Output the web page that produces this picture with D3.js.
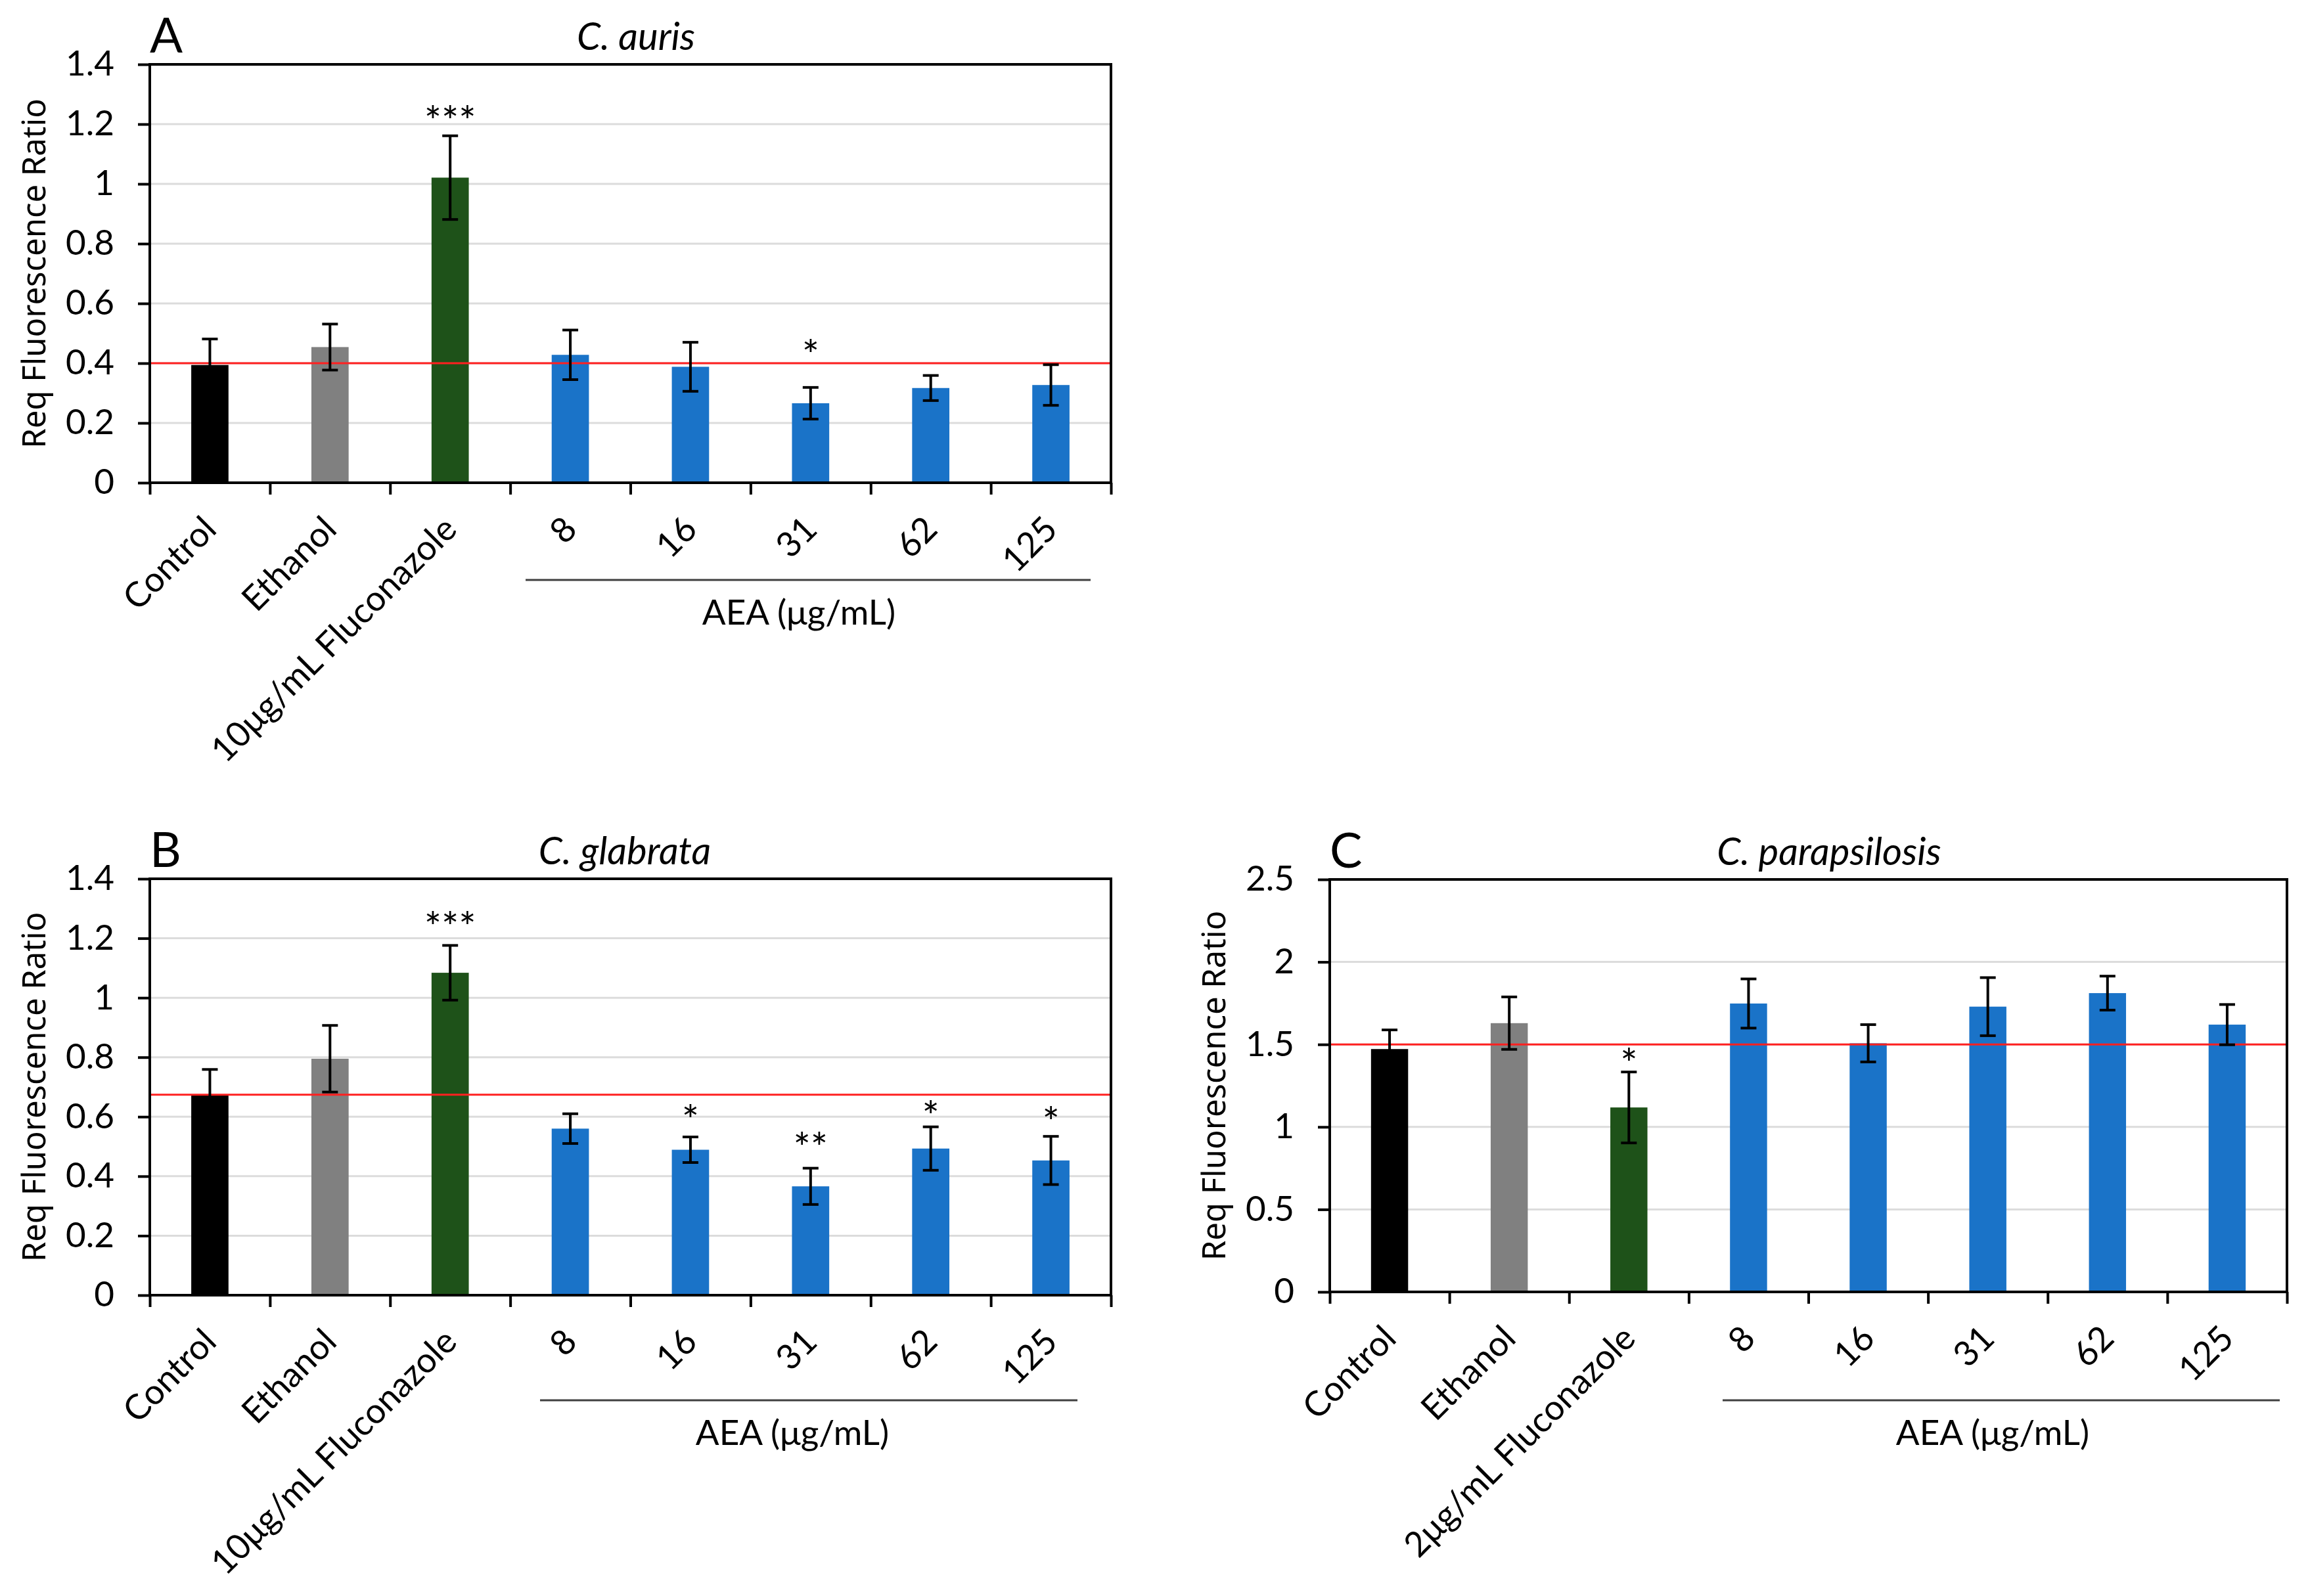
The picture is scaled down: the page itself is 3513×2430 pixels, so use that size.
<!DOCTYPE html>
<html>
<head>
<meta charset="utf-8">
<script src="https://cdn.jsdelivr.net/npm/d3@7/dist/d3.min.js"></script>
<style>
    body { margin: 0; background: #fff; }
    svg text { font-family: Lato, "Open Sans", sans-serif; fill: #000; }
</style>
</head>
<body>
<script>
// categories
var categoriesAB = ["Control", "Ethanol", "10μg/mL Fluconazole", "8", "16", "31", "62", "125"];
var categoriesC = ["Control", "Ethanol", "2μg/mL Fluconazole", "8", "16", "31", "62", "125"];
var barColors = ["#000000", "#808080", "#1e5219", "#1a73c8", "#1a73c8", "#1a73c8", "#1a73c8", "#1a73c8"];

// panel A - C. auris
var valuesA = [0.394, 0.454, 1.021, 0.428, 0.388, 0.266, 0.317, 0.327];
var errorsA = [0.087, 0.077, 0.140, 0.083, 0.082, 0.053, 0.042, 0.068];
var sigA = ["", "", "***", "", "", "*", "", ""];
var sigLevelA = [null, null, 1.236, null, null, 0.452, null, null];
var refA = 0.40;
var yTicksA = [0, 0.2, 0.4, 0.6, 0.8, 1, 1.2, 1.4];
var tickLabelsA = ["0", "0.2", "0.4", "0.6", "0.8", "1", "1.2", "1.4"];

// panel B - C. glabrata
var valuesB = [0.674, 0.795, 1.084, 0.560, 0.489, 0.366, 0.493, 0.453];
var errorsB = [0.085, 0.112, 0.092, 0.050, 0.043, 0.061, 0.073, 0.081];
var sigB = ["", "", "***", "", "*", "**", "*", "*"];
var sigLevelB = [null, null, 1.262, null, 0.614, 0.522, 0.627, 0.607];
var refB = 0.674;
var yTicksB = [0, 0.2, 0.4, 0.6, 0.8, 1, 1.2, 1.4];
var tickLabelsB = ["0", "0.2", "0.4", "0.6", "0.8", "1", "1.2", "1.4"];

// panel C - C. parapsilosis
var valuesC = [1.472, 1.629, 1.118, 1.748, 1.507, 1.729, 1.811, 1.620];
var errorsC = [0.116, 0.159, 0.215, 0.149, 0.113, 0.176, 0.103, 0.122];
var sigC = ["", "", "*", "", "", "", "", ""];
var sigLevelC = [null, null, 1.429, null, null, null, null, null];
var refC = 1.50;
var yTicksC = [0, 0.5, 1, 1.5, 2, 2.5];
var tickLabelsC = ["0", "0.5", "1", "1.5", "2", "2.5"];

var W = 3513, H = 2430;

var svg = d3.select("body").append("svg")
    .attr("width", W)
    .attr("height", H)
    .attr("viewBox", "0 0 " + W + " " + H);

svg.append("rect").attr("width", W).attr("height", H).attr("fill", "#fff");

function drawPanel(p) {
    var x = d3.scaleBand().domain(p.categories).range([p.x0, p.x1]);
    var xEdge = d3.scaleLinear().domain([0, p.categories.length]).range([p.x0, p.x1]);
    var y = d3.scaleLinear().domain([0, p.yTicks[p.yTicks.length - 1]]).range([p.y1, p.y0]);
    var bw = x.bandwidth() * 0.31;
    var cx = function(i) { return x(p.categories[i]) + x.bandwidth() / 2; };

    var g = svg.append("g");

    // gridlines
    g.append("g").selectAll("line")
        .data(p.yTicks.slice(1, -1))
        .enter().append("line")
        .attr("x1", p.x0).attr("x2", p.x1)
        .attr("y1", y).attr("y2", y)
        .attr("stroke", "#dcdcdc")
        .attr("stroke-width", 3);

    // bars
    g.append("g").selectAll("rect")
        .data(p.values)
        .enter().append("rect")
        .attr("x", function(d, i) { return cx(i) - bw / 2; })
        .attr("y", function(d) { return y(d); })
        .attr("width", bw)
        .attr("height", function(d) { return y(0) - y(d); })
        .attr("fill", function(d, i) { return barColors[i]; });

    // reference line
    g.append("line")
        .attr("x1", p.x0).attr("x2", p.x1)
        .attr("y1", y(p.ref)).attr("y2", y(p.ref))
        .attr("stroke", "#ff2020")
        .attr("stroke-width", 3);

    // error bars
    var eb = g.append("g").attr("stroke", "#000").attr("stroke-width", 4);
    p.values.forEach(function(v, i) {
        var e = p.errors[i], c = cx(i);
        eb.append("line").attr("x1", c).attr("x2", c).attr("y1", y(v - e)).attr("y2", y(v + e));
        eb.append("line").attr("x1", c - 12).attr("x2", c + 12).attr("y1", y(v + e)).attr("y2", y(v + e));
        eb.append("line").attr("x1", c - 12).attr("x2", c + 12).attr("y1", y(v - e)).attr("y2", y(v - e));
    });

    // significance marks
    p.sig.forEach(function(s, i) {
        if (!s) return;
        g.append("text")
            .attr("x", cx(i))
            .attr("y", y(p.sigLevel[i]) + 34)
            .attr("text-anchor", "middle")
            .style("font-size", "62px")
            .text(s);
    });

    // frame
    g.append("rect")
        .attr("x", p.x0).attr("y", p.y0)
        .attr("width", p.x1 - p.x0).attr("height", p.y1 - p.y0)
        .attr("fill", "none")
        .attr("stroke", "#000")
        .attr("stroke-width", 4);

    // y axis
    var yAxis = g.append("g")
        .attr("transform", "translate(" + p.x0 + ",0)")
        .call(d3.axisLeft(y)
            .tickValues(p.yTicks)
            .tickSize(18)
            .tickPadding(36)
            .tickFormat(function(d, i) { return p.tickLabels[i]; }));
    yAxis.select(".domain").remove();
    yAxis.selectAll(".tick line").attr("stroke-width", 4);
    yAxis.selectAll(".tick text").style("font-size", "53px");

    // x axis boundary ticks
    var xTicks = g.append("g")
        .attr("transform", "translate(0," + p.y1 + ")")
        .call(d3.axisBottom(xEdge)
            .tickValues(d3.range(p.categories.length + 1))
            .tickSize(18)
            .tickFormat(""));
    xTicks.select(".domain").remove();
    xTicks.selectAll(".tick line").attr("stroke-width", 4);

    // x category labels
    var xLabels = g.append("g")
        .attr("transform", "translate(0," + p.y1 + ")")
        .call(d3.axisBottom(x).tickSize(0));
    xLabels.select(".domain").remove();
    xLabels.selectAll(".tick text")
        .attr("x", 0).attr("y", 0).attr("dy", null)
        .attr("transform", "translate(13,74) rotate(-45)")
        .attr("text-anchor", "end")
        .style("font-size", "53px");

    // y axis title
    g.append("text")
        .attr("transform", "translate(" + (p.x0 - 159) + "," + ((p.y0 + p.y1) / 2) + ") rotate(-90)")
        .attr("text-anchor", "middle")
        .style("font-family", "'Noto Sans', sans-serif")
        .style("font-size", "49px")
        .text("Req Fluorescence Ratio");

    // panel title
    g.append("text")
        .attr("x", p.titleX)
        .attr("y", p.y0 - 22)
        .attr("text-anchor", "middle")
        .style("font-style", "italic")
        .style("font-size", "58px")
        .text(p.title);

    // panel letter
    g.append("text")
        .attr("x", p.x0)
        .attr("y", p.y0 - 18)
        .style("font-size", "74px")
        .text(p.letter);

    // AEA bracket
    g.append("line")
        .attr("x1", p.aea[0]).attr("x2", p.aea[1])
        .attr("y1", p.y1 + p.aeaLineDy).attr("y2", p.y1 + p.aeaLineDy)
        .attr("stroke", "#404040")
        .attr("stroke-width", 3);
    g.append("text")
        .attr("x", p.aeaLabelX)
        .attr("y", p.y1 + p.aeaLineDy + 68)
        .attr("text-anchor", "middle")
        .style("font-size", "53px")
        .text("AEA (μg/mL)");
}

drawPanel({
    letter: "A", title: "C. auris", titleX: 968,
    x0: 228, x1: 1691, y0: 98, y1: 735,
    categories: categoriesAB, values: valuesA, errors: errorsA,
    sig: sigA, sigLevel: sigLevelA, ref: refA,
    yTicks: yTicksA, tickLabels: tickLabelsA,
    aea: [800, 1660], aeaLineDy: 148, aeaLabelX: 1216
});

drawPanel({
    letter: "B", title: "C. glabrata", titleX: 951,
    x0: 228, x1: 1691, y0: 1338, y1: 1972,
    categories: categoriesAB, values: valuesB, errors: errorsB,
    sig: sigB, sigLevel: sigLevelB, ref: refB,
    yTicks: yTicksB, tickLabels: tickLabelsB,
    aea: [822, 1640], aeaLineDy: 160, aeaLabelX: 1206
});

drawPanel({
    letter: "C", title: "C. parapsilosis", titleX: 2784,
    x0: 2024, x1: 3481, y0: 1339, y1: 1967,
    categories: categoriesC, values: valuesC, errors: errorsC,
    sig: sigC, sigLevel: sigLevelC, ref: refC,
    yTicks: yTicksC, tickLabels: tickLabelsC,
    aea: [2622, 3470], aeaLineDy: 165, aeaLabelX: 3033
});
</script>
</body>
</html>
